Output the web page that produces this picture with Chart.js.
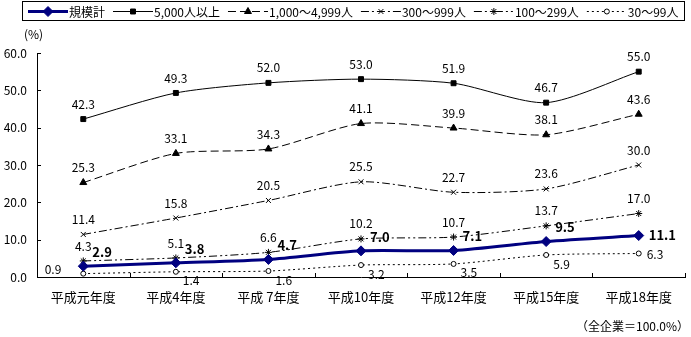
<!DOCTYPE html>
<html lang="ja">
<head>
<meta charset="UTF-8">
<title>規模別 推移</title>
<script src="https://cdn.jsdelivr.net/npm/chart.js"></script>
<style>
    body { margin: 0; background: #fff; }
    #wrap { position: relative; width: 691px; height: 337px; }
</style>
</head>
<body>
<div id="wrap"><canvas id="chart" width="691" height="337"></canvas></div>
<script>
const years = ['平成元年度', '平成4年度', '平成 7年度', '平成10年度', '平成12年度', '平成15年度', '平成18年度'];
const seriesNames = ['規模計', '5,000人以上', '1,000～4,999人', '300～999人', '100～299人', '30～99人'];
const total = [2.9, 3.8, 4.7, 7.0, 7.1, 9.5, 11.1];
const over5000 = [42.3, 49.3, 52.0, 53.0, 51.9, 46.7, 55.0];
const from1000 = [25.3, 33.1, 34.3, 41.1, 39.9, 38.1, 43.6];
const from300 = [11.4, 15.8, 20.5, 25.5, 22.7, 23.6, 30.0];
const from100 = [4.3, 5.1, 6.6, 10.2, 10.7, 13.7, 17.0];
const from30 = [0.9, 1.4, 1.6, 3.2, 3.5, 5.9, 6.3];
const yTicks = [0, 10, 20, 30, 40, 50, 60];

const FONT = '"Noto Sans CJK JP", "Noto Sans", sans-serif';

// label placement per series
const above = () => ({ dx: 0, dy: -15, align: 'center' });
const boldRight = (i, n) => i === n - 1 ? { dx: 10, dy: 0, align: 'left' } : { dx: 9, dy: -14, align: 'left' };
const belowRight = (i, n) => {
    if (i === 0) return { dx: -22, dy: -4, align: 'right' };
    if (i === n - 1) return { dx: 8, dy: 1, align: 'left' };
    return { dx: 7, dy: 9, align: 'left' };
};

function line(label, data, color, width, dash, style, radius, bg, pos, bold) {
    return {
        label, data,
        borderColor: color, borderWidth: width, borderDash: dash,
        pointStyle: style, pointRadius: radius, pointBorderWidth: 1,
        pointBackgroundColor: bg, pointBorderColor: color,
        tension: 0.25, labelPos: pos, labelBold: bold
    };
}

const datasets = [
    line(seriesNames[0], total, '#000080', 3, [], 'rectRot', 5, '#000080', boldRight, true),
    line(seriesNames[1], over5000, '#000', 1, [], 'rect', 3.5, '#000', above, false),
    line(seriesNames[2], from1000, '#000', 1, [8, 4], 'triangle', 4, '#000', above, false),
    line(seriesNames[3], from300, '#000', 1, [8, 3, 2, 3], 'crossRot', 3.5, '#000', above, false),
    line(seriesNames[4], from100, '#000', 1, [8, 3, 2, 3, 2, 3], 'star', 3.5, '#000', above, false),
    line(seriesNames[5], from30, '#000', 1, [2, 3], 'circle', 2.5, '#fff', belowRight, false)
];

const valueLabels = {
    id: 'valueLabels',
    afterDatasetsDraw(chart) {
        const ctx = chart.ctx;
        ctx.save();
        ctx.fillStyle = '#000';
        ctx.textBaseline = 'middle';
        chart.data.datasets.forEach((ds, di) => {
            const meta = chart.getDatasetMeta(di);
            ctx.font = (ds.labelBold ? 'bold 13px ' : '12px ') + FONT;
            meta.data.forEach((pt, i) => {
                const p = ds.labelPos(i, ds.data.length);
                ctx.textAlign = p.align;
                ctx.fillText(ds.data[i].toFixed(1), pt.x + p.dx, pt.y + p.dy);
            });
        });
        ctx.restore();
    }
};

// inward axis ticks, legend box and side notes
const decorations = {
    id: 'decorations',
    afterDraw(chart) {
        const ctx = chart.ctx;
        const area = chart.chartArea;
        const y = chart.scales.y;
        ctx.save();
        ctx.strokeStyle = '#000';
        ctx.lineWidth = 1;
        ctx.beginPath();
        yTicks.forEach(v => {
            const py = Math.round(y.getPixelForValue(v)) + 0.5;
            ctx.moveTo(area.left, py);
            ctx.lineTo(area.left + 4, py);
        });
        const step = (area.right - area.left) / years.length;
        for (let i = 1; i <= years.length; i++) {
            const px = Math.round(area.left + step * i) + 0.5;
            ctx.moveTo(px, area.bottom);
            ctx.lineTo(px, area.bottom - 4);
        }
        ctx.stroke();

        ctx.fillStyle = '#000';
        ctx.font = '12px ' + FONT;
        ctx.textBaseline = 'middle';
        ctx.textAlign = 'left';
        ctx.fillText('(%)', 24, 34);
        ctx.textAlign = 'right';
        ctx.fillText('（全企業＝100.0%）', 689, 326);

        // legend
        ctx.strokeRect(22.5, 1.5, 662, 19);
        let lx = 28;
        const ly = 11;
        chart.data.datasets.forEach(ds => {
            ctx.save();
            ctx.strokeStyle = ds.borderColor;
            ctx.lineWidth = ds.borderWidth;
            ctx.setLineDash(ds.borderDash);
            ctx.beginPath();
            ctx.moveTo(lx, ly + 0.5);
            ctx.lineTo(lx + 40, ly + 0.5);
            ctx.stroke();
            ctx.setLineDash([]);
            ctx.fillStyle = ds.pointBackgroundColor;
            ctx.lineWidth = 1;
            Chart.helpers.drawPoint(ctx, { pointStyle: ds.pointStyle, radius: ds.pointRadius, borderWidth: 1 }, lx + 20, ly + 0.5);
            ctx.restore();
            lx += 41;
            ctx.textAlign = 'left';
            ctx.fillText(ds.label, lx, ly + 1);
            lx += ctx.measureText(ds.label).width + 8;
        });
        ctx.restore();
    }
};

new Chart(document.getElementById('chart'), {
    type: 'line',
    data: { labels: years, datasets },
    options: {
        responsive: false,
        animation: false,
        layout: { padding: { top: 53, right: 4, bottom: 20, left: 0 } },
        plugins: { legend: { display: false }, tooltip: { enabled: false } },
        scales: {
            x: {
                offset: true,
                grid: { display: false, drawTicks: false },
                border: { display: true, color: '#000', width: 1 },
                ticks: { color: '#000', font: { family: FONT, size: 13 }, padding: 12, maxRotation: 0 },
                afterFit(s) { s.height = 40; }
            },
            y: {
                min: 0, max: 60,
                grid: { display: false, drawTicks: false },
                border: { display: true, color: '#000', width: 1 },
                ticks: {
                    stepSize: 10, color: '#000', padding: 10,
                    font: { family: FONT, size: 12 },
                    callback: v => v.toFixed(1)
                },
                afterFit(s) { s.width = 37; }
            }
        }
    },
    plugins: [valueLabels, decorations]
});
</script>
</body>
</html>
